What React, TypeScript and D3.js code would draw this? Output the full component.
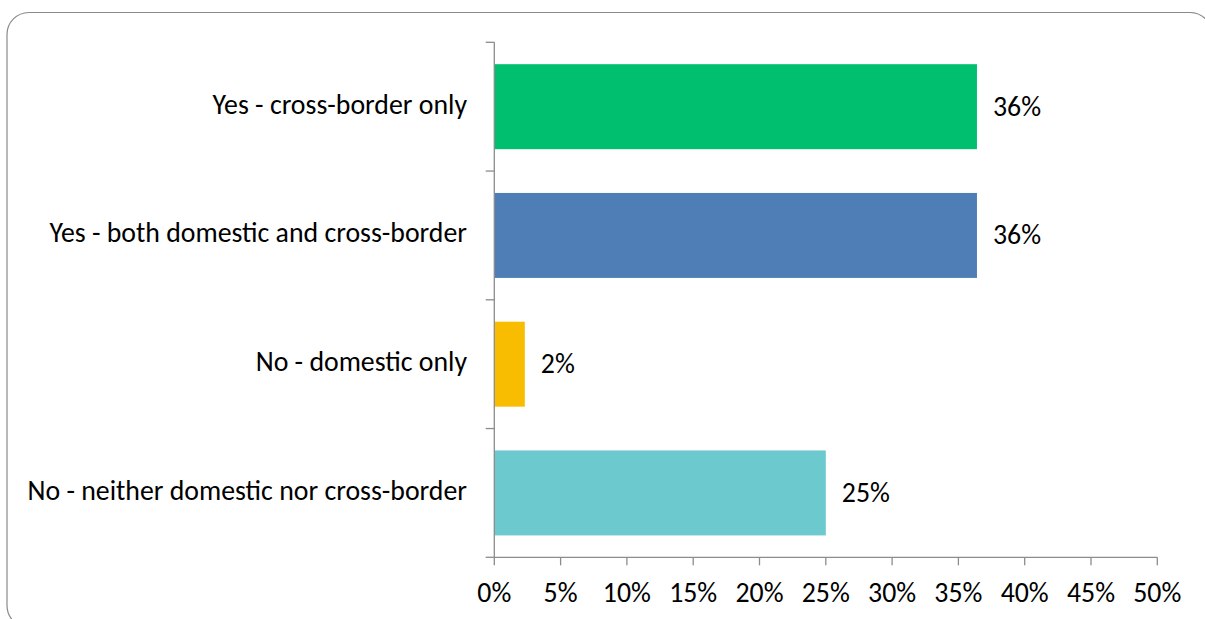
import React from "react";
import * as d3 from "d3";

const categories = [
  "Yes - cross-border only",
  "Yes - both domestic and cross-border",
  "No - domestic only",
  "No - neither domestic nor cross-border",
];
const values = [36.4, 36.4, 2.3, 25.0];
const valueLabels = ["36%", "36%", "2%", "25%"];
const barColors = ["#00BF6F", "#4F7DB5", "#F8BC00", "#6CC9CD"];
const xTicks = [0, 5, 10, 15, 20, 25, 30, 35, 40, 45, 50];

const W = 1205;
const H = 619;
const FONT = "Carlito, Lato, 'Open Sans', sans-serif";
const FS = 27.8;

export default function App() {
  const x = d3.scaleLinear().domain([0, 50]).range([494.3, 1157.3]);
  const y = d3
    .scaleBand<string>()
    .domain(categories)
    .range([42.3, 557.3])
    .paddingInner(0.34)
    .paddingOuter(0.17);
  const step = y.step();
  const axisColor = "#8c8c8c";
  const bandEdges = categories.map((_, i) => 42.3 + i * step).concat([557.3]);

  return (
    <svg
      width={W}
      height={H}
      style={{ position: "absolute", left: 0, top: 0, background: "#fff" }}
      fontFamily={FONT}
    >
      <rect
        x={7}
        y={12.5}
        width={1205}
        height={615}
        rx={22}
        ry={22}
        fill="#fff"
        stroke="#8a8a8a"
        strokeWidth={1.2}
      />
      {categories.map((c, i) => (
        <rect
          key={c}
          x={x(0)}
          y={y(c)}
          width={x(values[i]) - x(0)}
          height={y.bandwidth()}
          fill={barColors[i]}
        />
      ))}
      {/* y axis */}
      <line x1={x(0)} x2={x(0)} y1={42.3} y2={557.3} stroke={axisColor} strokeWidth={1.3} />
      {bandEdges.map((v, i) => (
        <line key={i} x1={485.7} x2={x(0)} y1={v} y2={v} stroke={axisColor} strokeWidth={1.3} />
      ))}
      {/* x axis */}
      <line x1={x(0)} x2={x(50)} y1={557.3} y2={557.3} stroke={axisColor} strokeWidth={1.3} />
      {xTicks.map((t) => (
        <g key={t}>
          <line x1={x(t)} x2={x(t)} y1={557.3} y2={565.3} stroke={axisColor} strokeWidth={1.3} />
          <text x={x(t)} y={601.7} textAnchor="middle" fontSize={FS} fill="#000">
            {t}%
          </text>
        </g>
      ))}
      {categories.map((c) => (
        <text
          key={c + "l"}
          x={467}
          y={(y(c) as number) + y.bandwidth() / 2 + 7}
          textAnchor="end"
          fontSize={FS}
          fill="#000"
        >
          {c}
        </text>
      ))}
      {categories.map((c, i) => (
        <text
          key={c + "v"}
          x={x(values[i]) + 16}
          y={(y(c) as number) + y.bandwidth() / 2 + 9}
          textAnchor="start"
          fontSize={FS}
          fill="#000"
        >
          {valueLabels[i]}
        </text>
      ))}
    </svg>
  );
}
